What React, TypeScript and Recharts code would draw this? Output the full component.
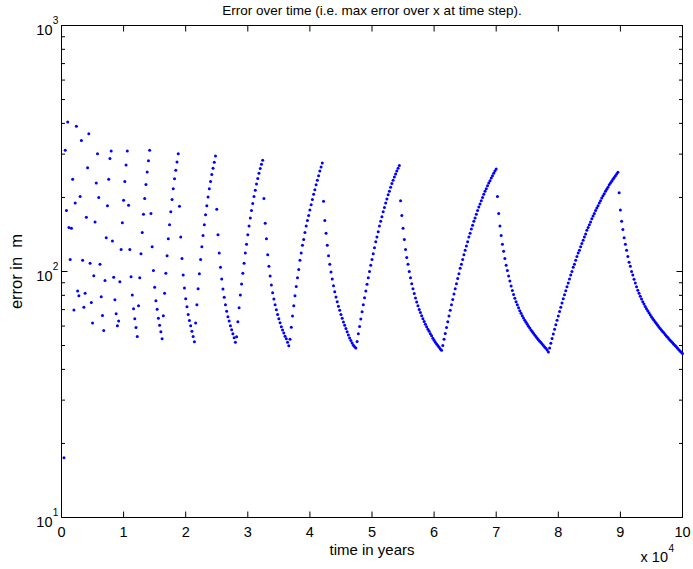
import React from 'react';
import { ScatterChart, Scatter, XAxis, YAxis, ReferenceArea } from 'recharts';

// one sample every 200 years, first visible sample is step 2
const TIME_STEP = 200;
const FIRST_STEP = 2;

// max error (m) per time step
const earlyErrors = [
  17.5, 311, 177, 405, 151, 112, 150, 237, 69.7, 190, 389, 83.3, 79.7, 202, 341, 111, 71.5, 81.5, 166, 264,
  363, 108, 74.9, 61.7, 96.2, 159, 229, 301, 200, 107, 79.0, 66.3, 57.6, 92.0, 137, 185, 237, 288, 309, 133,
  94.7, 76.8, 67.3, 60.2, 62.9, 90.9, 123, 158, 195, 232, 271, 309, 186, 123, 95.3, 80.2, 70.6, 64.2, 59.2, 54.4,
  72.6, 94.4, 118, 144, 171, 198, 226, 254, 282, 311, 172, 126, 101, 86.2, 76.1, 70.2, 64.5, 60.4, 56.9, 53.3,
  66.1, 81.5, 98.3, 116, 136, 155, 175, 196, 217, 238, 258, 279,
];
const wave1 = [
  301, 184, 138, 113, 96.8, 85.7, 77.5, 71.9, 66.9, 63.2, 60.2, 57.2, 54.4, 51.8, 61.7, 73.3, 85.1, 98.0, 112, 126,
  140, 155, 170, 185, 201, 217, 232, 248, 263, 278,
];
const wave2 = [
  295, 179, 141, 119, 104, 93.2, 84.9, 78.5, 73.3, 69.0, 65.5, 62.9, 60.2, 58.0, 55.8, 53.8, 51.6, 54.3, 62.5, 71.2,
  80.2, 89.0, 98.3, 108, 119, 129, 141, 153, 165, 177, 189, 202, 214, 227, 239, 251, 262, 273,
];
const wave3 = [
  283, 198, 157, 136, 117, 105, 95.9, 88.1, 82.0, 77.3, 73.3, 69.9, 66.9, 64.3, 61.9, 59.6, 57.8, 56.2, 54.6, 53.3,
  51.6, 49.9, 53.1, 59.4, 65.9, 72.6, 79.7, 86.8, 94.4, 102, 111, 119, 128, 135, 144, 153, 161, 169, 178, 187,
  196, 206, 215, 225, 235, 245, 256, 266,
];
const wave4 = [
  276, 193, 161, 143, 128, 116, 107, 99.6, 93.3, 87.6, 82.8, 78.7, 75.3, 72.2, 69.6, 66.9, 64.5, 62.4, 60.4, 58.6,
  56.9, 55.2, 53.7, 52.4, 51.2, 50.1, 49.4, 48.9, 51.9, 55.8, 59.8, 64.1, 68.6, 73.3, 78.3, 83.4, 88.7, 94.3, 100, 106,
  112, 118, 125, 132, 138, 145, 153, 160, 167, 175, 182, 190, 197, 205, 212, 220, 228, 235, 242, 249,
  256, 263,
];
const wave5 = [
  270, 194, 169, 150, 135, 123, 114, 107, 100, 94.3, 89.2, 85.0, 81.4, 78.1, 75.2, 72.5, 70.1, 68.1, 66.1, 64.2,
  62.6, 61.1, 59.6, 58.3, 57.1, 55.9, 54.8, 53.6, 52.5, 51.6, 50.7, 50.0, 49.2, 48.4, 47.8, 50.0, 53.0, 56.0, 59.2, 62.5,
  66.0, 69.5, 73.2, 77.0, 81.0, 85.1, 89.2, 93.6, 98.0, 103, 107, 112, 117, 122, 127, 132, 138, 143, 149, 154,
  160, 165, 171, 177, 183, 188, 194, 200, 206, 212, 217, 223, 229, 234, 240, 245, 251, 256,
];
const wave6 = [
  261, 202, 172, 153, 140, 129, 121, 113, 106, 101, 95.9, 91.4, 87.3, 83.8, 80.6, 77.9, 75.4, 73.2, 71.2, 69.3,
  67.7, 66.1, 64.7, 63.4, 62.2, 61.0, 59.9, 58.9, 57.9, 57.0, 56.1, 55.2, 54.4, 53.6, 52.8, 52.1, 51.4, 50.7, 50.0, 49.3,
  48.7, 48.0, 47.1, 48.9, 51.1, 53.4, 55.7, 58.2, 60.7, 63.3, 66.0, 68.7, 71.5, 74.4, 77.4, 80.4, 83.5, 86.7, 89.9, 93.3,
  96.7, 100, 104, 107, 111, 115, 119, 122, 126, 130, 134, 138, 142, 147, 151, 155, 159, 164, 168, 172,
  177, 181, 185, 190, 194, 199, 203, 207, 212, 216, 220, 225, 229, 233, 237, 241, 245, 249,
];
const wave7 = [
  253, 209, 178, 160, 148, 137, 129, 122, 115, 109, 105, 100, 96.7, 93.0, 89.7, 86.7, 84.0, 81.6, 79.3, 77.3,
  75.4, 73.7, 72.1, 70.6, 69.2, 67.9, 66.7, 65.5, 64.4, 63.3, 62.3, 61.4, 60.4, 59.5, 58.7, 57.8, 57.0, 56.3, 55.5, 54.7,
  54.0, 53.3, 52.6, 51.9, 51.3, 50.6, 50.0, 49.4, 48.7, 48.1, 47.5, 47.0, 46.4,
];

const xTicks = [0, 10000, 20000, 30000, 40000, 50000, 60000, 70000, 80000, 90000, 100000];
const xTickLabels = ['0', '1', '2', '3', '4', '5', '6', '7', '8', '9', '10'];
const yTicks = [10, 20, 30, 40, 50, 60, 70, 80, 90, 100, 200, 300, 400, 500, 600, 700, 800, 900, 1000];
const yMajorLabels: Record<number, string> = { 10: '1', 100: '2', 1000: '3' };

const errorPoints = [earlyErrors, wave1, wave2, wave3, wave4, wave5, wave6, wave7]
  .flat()
  .map((error, i) => ({ time: (FIRST_STEP + i) * TIME_STEP, error }));

const W = 693;
const H = 569;
const LEFT = 61.5;
const RIGHT = 682.5;
const TOP = 25.5;
const BOTTOM = 517.5;
const FONT = '"Liberation Sans", Arial, Helvetica, sans-serif';
const FS = 14.5;

const XTick = (props: any) => {
  const { x, payload, index } = props;
  return (
    <g>
      <line x1={x} x2={x} y1={BOTTOM} y2={BOTTOM - 6} stroke="#000" />
      <line x1={x} x2={x} y1={TOP} y2={TOP + 6} stroke="#000" />
      <text x={x} y={BOTTOM + 19} textAnchor="middle" fontSize={FS} fontFamily={FONT} fill="#000">
        {xTickLabels[index] ?? String(payload.value / 10000)}
      </text>
    </g>
  );
};

const YTick = (props: any) => {
  const { y, payload } = props;
  const exp = yMajorLabels[payload.value];
  const len = exp ? 6 : 3.5;
  return (
    <g>
      <line x1={LEFT} x2={LEFT + len} y1={y} y2={y} stroke="#000" />
      <line x1={RIGHT} x2={RIGHT - len} y1={y} y2={y} stroke="#000" />
      {exp && (
        <>
          <text x={52.5} y={y + 9} textAnchor="end" fontSize={FS} fontFamily={FONT} fill="#000">10</text>
          <text x={52.8} y={y - 1.5} textAnchor="start" fontSize={FS * 0.7} fontFamily={FONT} fill="#000">{exp}</text>
        </>
      )}
    </g>
  );
};

const Dot = (props: any) => <circle cx={props.cx} cy={props.cy} r={1.5} fill="#0000ff" />;

export default function App() {
  return (
    <div style={{ position: 'absolute', left: 0, top: 0, width: W, height: H, background: '#fff' }}>
      <ScatterChart width={W} height={H} margin={{ top: TOP, right: W - RIGHT, bottom: 0, left: 0 }}>
        <XAxis
          dataKey="time"
          type="number"
          domain={[0, 100000]}
          ticks={xTicks}
          interval={0}
          height={H - BOTTOM}
          axisLine={false}
          tickLine={false}
          tick={XTick}
        />
        <YAxis
          dataKey="error"
          type="number"
          scale="log"
          domain={[10, 1000]}
          ticks={yTicks}
          interval={0}
          width={LEFT}
          allowDataOverflow
          axisLine={false}
          tickLine={false}
          tick={YTick}
        />
        <ReferenceArea x1={0} x2={100000} y1={10} y2={1000} fill="none" stroke="#000" strokeWidth={1} />
        <Scatter data={errorPoints} dataKey="error" shape={Dot} isAnimationActive={false} />
        <text x={(LEFT + RIGHT) / 2} y={15} textAnchor="middle" fontSize={13.5} fontFamily={FONT} fill="#000">
          Error over time (i.e. max error over x at time step).
        </text>
        <text x={(LEFT + RIGHT) / 2} y={555} textAnchor="middle" fontSize={15} fontFamily={FONT} fill="#000">
          time in years
        </text>
        <text x={668} y={562} textAnchor="end" fontSize={FS} fontFamily={FONT} fill="#000">x 10</text>
        <text x={668.5} y={552} textAnchor="start" fontSize={FS * 0.7} fontFamily={FONT} fill="#000">4</text>
        <text
          x={22}
          y={(TOP + BOTTOM) / 2}
          transform={`rotate(-90 22 ${(TOP + BOTTOM) / 2})`}
          textAnchor="middle"
          fontSize={16.5}
          fontFamily={FONT}
          fill="#000"
          style={{ whiteSpace: 'pre' }}
        >
          {'error in  m'}
        </text>
      </ScatterChart>
    </div>
  );
}
